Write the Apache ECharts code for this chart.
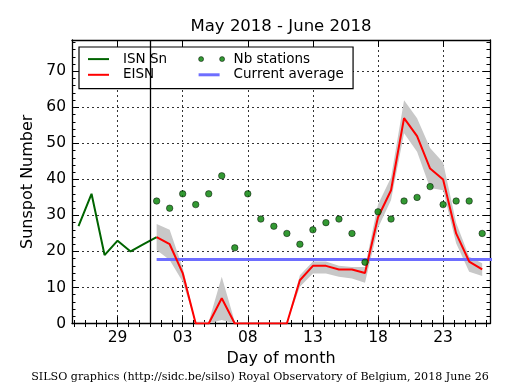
<!DOCTYPE html>
<html>
<head>
<meta charset="utf-8">
<script src="https://cdn.jsdelivr.net/npm/echarts@6/dist/echarts.min.js"></script>
<style>html,body{margin:0;padding:0;background:#fff}#c{width:515px;height:390px}</style>
</head>
<body>
<div id="c"></div>
<script>
// ---- data (day numbers counted from 1 May 2018; 32 = 1 June) ----
const isnDays = [26, 27, 28, 29, 30, 31, 32];
const isnValues = [27, 36, 19, 23, 20, 22, 24];
const eisnDays = [32,33,34,35,36,37,38,39,40,41,42,43,44,45,46,47,48,49,50,51,52,53,54,55,56,57];
const eisnValues = [24,22,14,0,0,7,0,0,0,0,0,12,16,16,15,15,14,29.5,37,57,52,43,40,25,17.2,15];
const bandUpper = [27.6,26,15.5,0.5,0.5,13,0.5,0.3,0.3,0.3,0.3,13.4,17.2,17.2,16,15.7,15.7,33,40.5,62,57,48.7,44.7,28,18.5,16.7];
const bandLower = [20.4,17.6,11.6,0,0,1,0,0,0,0,0,10.2,13.9,13.9,13,12.5,11.3,26.5,34.3,52.8,47.7,37.6,37,22.3,14.4,13.2];
const stationValues = [34,32,36,33,36,41,21,36,29,27,25,22,26,28,29,25,17,31,29,34,35,38,33,34,34,25];
const averageDays = [32, 58];
const averageValue = [17.8, 17.8];
const dataStartDay = 31.5;
const xTickDays = [29, 34, 39, 44, 49, 54];
const xTickLabels = ['29', '03', '08', '13', '18', '23'];
const yTickValues = [0, 10, 20, 30, 40, 50, 60, 70];

const X_MIN = 25.5, X_MAX = 57.6, Y_MIN = 0, Y_MAX = 78.7;
const FONT = 'DejaVu Sans';

const xMinor = [];
for (let k = -6; k <= 40; k++) { const v = 29 + k * 5 / 6; if (v > X_MIN && v < X_MAX) xMinor.push(v); }
const yMinor = [];
for (let v = 0; v <= 78; v += 2) yMinor.push(v);

const zip = (a, b) => a.map((x, i) => [x, b[i]]);

const baseX = { type: 'value', min: X_MIN, max: X_MAX, gridIndex: 0 };
const baseY = { type: 'value', min: Y_MIN, max: Y_MAX, gridIndex: 0 };
const axLine = { show: true, onZero: false, lineStyle: { color: '#000', width: 1.3 } };
const noLine = { show: false };
const tickStyle = { color: '#000', width: 1 };

const xAxes = [
  Object.assign({}, baseX, {
    position: 'bottom', axisLine: axLine,
    axisTick: { show: true, inside: true, length: 7, customValues: xTickDays, lineStyle: tickStyle },
    axisLabel: { show: true, customValues: xTickDays, margin: 6, color: '#000', fontFamily: FONT, fontSize: 15.5,
      formatter: v => xTickLabels[xTickDays.indexOf(Math.round(v))] },
    splitLine: { show: true, lineStyle: { color: '#000', width: 0.8, type: [2, 3] } },
    name: 'Day of month', nameLocation: 'middle', nameGap: 26,
    nameTextStyle: { color: '#000', fontFamily: FONT, fontSize: 16 }
  }),
  Object.assign({}, baseX, {
    position: 'top', axisLine: axLine,
    axisTick: { show: true, inside: true, length: 7, customValues: xTickDays, lineStyle: tickStyle },
    axisLabel: { show: false }, splitLine: { show: false }
  }),
  Object.assign({}, baseX, {
    position: 'bottom', axisLine: noLine,
    axisTick: { show: true, inside: true, length: 3.5, customValues: xMinor, lineStyle: tickStyle },
    axisLabel: { show: false }, splitLine: { show: false }
  }),
  Object.assign({}, baseX, {
    position: 'top', axisLine: noLine,
    axisTick: { show: true, inside: true, length: 3.5, customValues: xMinor, lineStyle: tickStyle },
    axisLabel: { show: false }, splitLine: { show: false }
  })
];

const yAxes = [
  Object.assign({}, baseY, {
    position: 'left', axisLine: axLine,
    axisTick: { show: true, inside: true, length: 7, customValues: yTickValues, lineStyle: tickStyle },
    axisLabel: { show: true, customValues: yTickValues, margin: 6, color: '#000', fontFamily: FONT, fontSize: 15.5 },
    splitLine: { show: true, lineStyle: { color: '#000', width: 0.8, type: [2, 3] } },
    name: 'Sunspot Number', nameLocation: 'middle', nameGap: 26,
    nameTextStyle: { color: '#000', fontFamily: FONT, fontSize: 16 }
  }),
  Object.assign({}, baseY, {
    position: 'right', axisLine: axLine,
    axisTick: { show: true, inside: true, length: 7, customValues: yTickValues, lineStyle: tickStyle },
    axisLabel: { show: false }, splitLine: { show: false }
  }),
  Object.assign({}, baseY, {
    position: 'left', axisLine: noLine,
    axisTick: { show: true, inside: true, length: 3.5, customValues: yMinor, lineStyle: tickStyle },
    axisLabel: { show: false }, splitLine: { show: false }
  }),
  Object.assign({}, baseY, {
    position: 'right', axisLine: noLine,
    axisTick: { show: true, inside: true, length: 3.5, customValues: yMinor, lineStyle: tickStyle },
    axisLabel: { show: false }, splitLine: { show: false }
  })
];

const lineIcon = w => 'path://M0,0 M30,7 M0,' + (3.5 - w / 2) + ' L21,' + (3.5 - w / 2) + ' L21,' + (3.5 + w / 2) + ' L0,' + (3.5 + w / 2) + ' Z';
const dotsIcon = 'path://M0,0 M30,7 M0,3.5 a2.5,2.5 0 1,0 5,0 a2.5,2.5 0 1,0 -5,0 Z M21,3.5 a2.5,2.5 0 1,0 5,0 a2.5,2.5 0 1,0 -5,0 Z';
const legendText = { fontFamily: FONT, fontSize: 13.5, color: '#000' };

const chart = echarts.init(document.getElementById('c'), null, { renderer: 'canvas' });
chart.setOption({
  animation: false,
  backgroundColor: '#fff',
  title: [
    { text: 'May 2018 - June 2018', left: 276, top: 13, textAlign: 'center',
      textStyle: { fontFamily: FONT, fontSize: 16.5, fontWeight: 'normal', color: '#000' } },
    { text: 'SILSO graphics (http://sidc.be/silso) Royal Observatory of Belgium, 2018 June 26',
      left: 255, top: 367, textAlign: 'center',
      textStyle: { fontFamily: 'DejaVu Serif', fontSize: 11.1, fontWeight: 'normal', color: '#000' } }
  ],
  grid: { left: 72, top: 40, width: 418, height: 283.5, containLabel: false },
  xAxis: xAxes,
  yAxis: yAxes,
  legend: [
    {
      left: 79, top: 47, orient: 'vertical',
      padding: [5.1, 186, 6.8, 9], itemGap: 1.7, itemWidth: 30, itemHeight: 7,
      backgroundColor: '#fff', borderColor: '#000', borderWidth: 1.2, borderRadius: 0,
      selectedMode: false,
      textStyle: legendText,
      data: [
        { name: 'ISN Sn', icon: lineIcon(2), itemStyle: { color: '#006400', borderWidth: 0 } },
        { name: 'EISN', icon: lineIcon(2), itemStyle: { color: '#ff0000', borderWidth: 0 } }
      ]
    },
    {
      left: 198.3, top: 52.1, orient: 'vertical',
      padding: 0, itemGap: 1.7, itemWidth: 30, itemHeight: 7,
      selectedMode: false,
      textStyle: legendText,
      data: [
        { name: 'Nb stations', icon: dotsIcon, itemStyle: { color: '#008000', borderColor: '#000', borderWidth: 0.6 } },
        { name: 'Current average', icon: lineIcon(3), itemStyle: { color: '#6e6eff', borderWidth: 0 } }
      ]
    }
  ],
  series: [
    { name: 'band', type: 'custom', silent: true, z: 1,
      data: eisnDays.map((d, i) => [d, bandUpper[i], bandLower[i]]),
      encode: { x: 0, y: [1, 2] },
      renderItem: (params, api) => {
        if (params.dataIndex !== 0) return null;
        const pts = [];
        eisnDays.forEach((d, i) => pts.push(api.coord([d, bandUpper[i]])));
        for (let i = eisnDays.length - 1; i >= 0; i--) pts.push(api.coord([eisnDays[i], bandLower[i]]));
        return { type: 'polygon', shape: { points: pts }, style: { fill: '#c8c8c8' } };
      } },
    { name: 'Current average', type: 'line', data: zip(averageDays, averageValue), symbol: 'none',
      color: '#6e6eff', lineStyle: { color: '#6e6eff', width: 3 }, itemStyle: { color: '#6e6eff', borderWidth: 0 }, z: 2 },
    { name: 'ISN Sn', type: 'line', data: zip(isnDays, isnValues), symbol: 'none',
      color: '#006400', lineStyle: { color: '#006400', width: 2 }, itemStyle: { color: '#006400', borderWidth: 0 }, z: 3,
      markLine: { silent: true, symbol: ['none', 'none'], label: { show: false },
        lineStyle: { color: '#000', width: 1.3, type: 'solid' }, data: [{ xAxis: dataStartDay }] } },
    { name: 'EISN', type: 'line', data: zip(eisnDays, eisnValues), symbol: 'none',
      color: '#ff0000', lineStyle: { color: '#ff0000', width: 2 }, itemStyle: { color: '#ff0000', borderWidth: 0 }, z: 4 },
    { name: 'Nb stations', type: 'scatter', data: zip(eisnDays, stationValues), symbolSize: 6.5,
      color: '#008000', itemStyle: { color: '#008000', borderColor: '#000', borderWidth: 0.6 }, z: 5 }
  ]
});
</script>
</body>
</html>
